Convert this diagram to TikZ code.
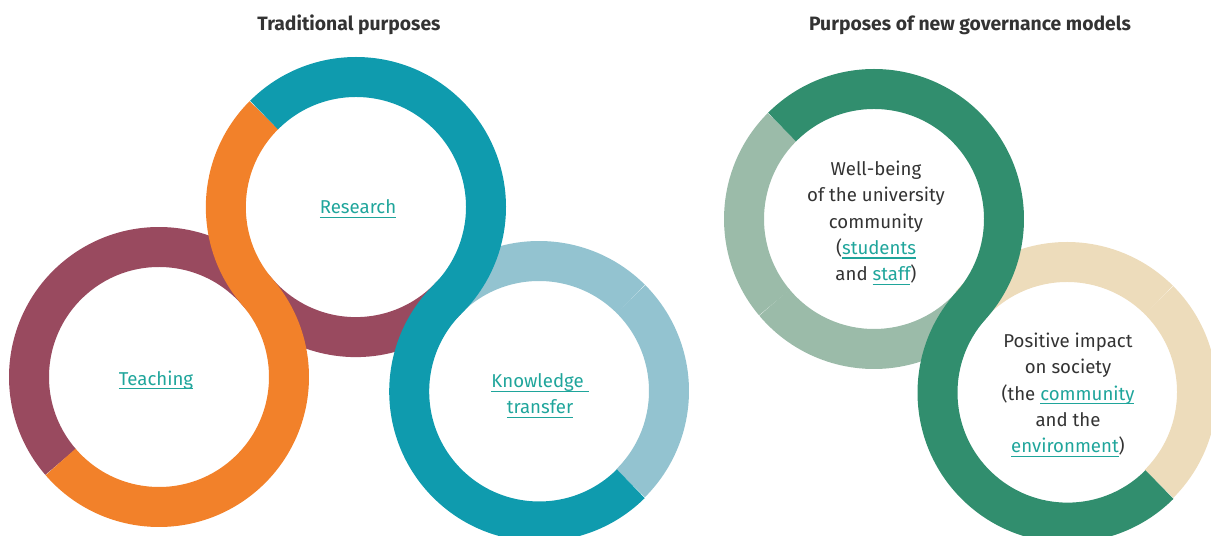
\documentclass[tikz,border=0pt]{standalone}
\usepackage{fontspec}
\setmainfont{Fira Sans}
\usepackage{xcolor}
\usepackage{tikz}

\definecolor{ringteal}{HTML}{0F9BAE}
\definecolor{ringorange}{HTML}{F2812A}
\definecolor{ringmaroon}{HTML}{994A5F}
\definecolor{ringblue}{HTML}{93C3D0}
\definecolor{ringgreen}{HTML}{318E6E}
\definecolor{ringsage}{HTML}{9BBBA9}
\definecolor{ringbeige}{HTML}{EDDCBB}
\definecolor{linkc}{HTML}{1FA59B}
\definecolor{bodytext}{HTML}{333333}

% teal, underlined words
\newcommand{\lnk}[1]{{\color{linkc}\setbox0\hbox{#1}\rlap{\rule[-0.24em]{\wd0}{0.08em}}\box0}}

\begin{document}
\begin{tikzpicture}[x=0.02cm, y=0.02cm]
            \tikzstyle{band} = [line width=0.8cm, line cap=butt];
            \tikzstyle{label} = [align=center, text=bodytext, font=\fontsize{10.6}{15}\selectfont];
            \tikzstyle{heading} = [text=bodytext, font=\fontsize{11}{13}\selectfont\bfseries];
            \useasboundingbox (0,0) rectangle (1211,-536);
            \clip (0,0) rectangle (1211,-536);

            \coordinate (T) at (159,-377);
            \coordinate (R) at (356,-207);
            \coordinate (K) at (539,-391);
            \coordinate (W) at (874,-219);
            \coordinate (P) at (1067,-392);

            % traditional purposes
            \draw [band, ringmaroon] (T) ++(220.8:130) arc[start angle=220.8, end angle=40.8, radius=130]
                arc[start angle=220.8, end angle=314.8, radius=130];
            \draw [band, ringblue] (K) ++(-45.2:130) arc[start angle=-45.2, end angle=45, radius=130];
            \draw [band, ringblue] (K) ++(45:130) arc[start angle=45, end angle=134.8, radius=130];
            \draw [band, ringorange] (T) ++(220.8:130) arc[start angle=220.8, end angle=400.8, radius=130]
                arc[start angle=220.8, end angle=135, radius=130];
            \draw [band, ringteal] (R) ++(135:130) arc[start angle=135, end angle=-45.2, radius=130]
                arc[start angle=134.8, end angle=314.8, radius=130];

            % new governance models
            \draw [band, ringsage] (W) ++(135:130) arc[start angle=135, end angle=220, radius=130];
            \draw [band, ringsage] (W) ++(220:130) arc[start angle=220, end angle=318.1, radius=130];
            \draw [band, ringbeige] (P) ++(-45:130) arc[start angle=-45, end angle=45, radius=130];
            \draw [band, ringbeige] (P) ++(45:130) arc[start angle=45, end angle=138.1, radius=130];
            \draw [band, ringgreen] (W) ++(135:130) arc[start angle=135, end angle=-41.9, radius=130]
                arc[start angle=138.1, end angle=315, radius=130];

            \node [heading] (H1) at (349,-25) {Traditional purposes};
            \node [heading] (H2) at (970,-25) {Purposes of new governance models};

            \node [label] (Rs) at (358,-209) {\lnk{Research}};
            \node [label] (Tc) at (156,-380) {\lnk{Teaching}};
            \node [label] (Kt) at (540,-396) {\lnk{Knowledge\ }\\\lnk{transfer}};
            \node [label] (Wb) at (876,-223) {Well-being\\of the university\\community\\(\lnk{students}\\and \lnk{staff})};
            \node [label] (Pi) at (1068,-395) {Positive impact\\on society\\(the \lnk{community}\\and the\\\lnk{environment})};
        \end{tikzpicture}
\end{document}
